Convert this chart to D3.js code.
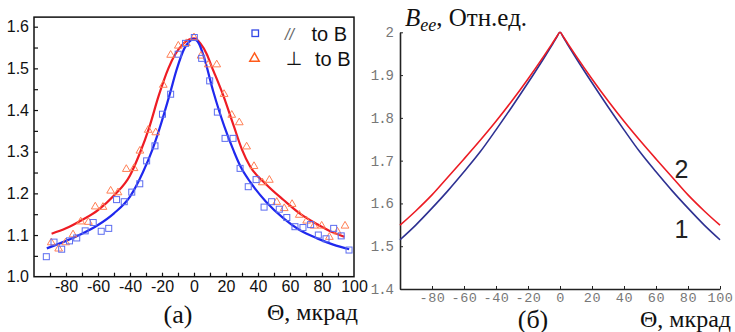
<!DOCTYPE html>
<html><head><meta charset="utf-8">
<script src="https://cdn.jsdelivr.net/npm/d3@7"></script>
<style>body{margin:0;background:#fff;} svg{display:block}</style>
</head><body>
<svg id="c" width="735" height="332"></svg>
<script>
// ---------- Panel (a): measured points ----------
const parTheta = [-92.3,-87.5,-82.7,-77.8,-73.3,-68.0,-63.0,-58.0,-53.3,-48.4,-43.6,-38.9,-33.9,-29.6,-24.4,-19.7,-14.6,-9.9,-5.3,0.2,4.8,9.8,14.6,19.4,24.4,28.8,33.9,38.8,43.8,48.5,53.3,58.0,63.1,68.1,72.9,77.7,82.5,87.3,92.0,96.9];
const parVal   = [1.048,1.083,1.066,1.086,1.093,1.110,1.130,1.109,1.116,1.185,1.180,1.203,1.223,1.278,1.314,1.390,1.438,1.534,1.560,1.574,1.524,1.470,1.395,1.332,1.332,1.260,1.216,1.233,1.167,1.180,1.162,1.142,1.120,1.118,1.125,1.100,1.091,1.116,1.098,1.064];
const perpTheta = [-89.2,-84.6,-80.2,-75.6,-70.8,-66.0,-61.7,-56.9,-52.1,-47.5,-42.3,-37.5,-33.8,-28.6,-23.9,-19.2,-14.6,-9.8,-4.8,0.0,4.4,8.9,14.2,18.8,23.6,28.3,32.9,37.5,42.7,47.1,51.7,56.4,61.3,65.8,70.4,75.0,79.8,84.6,89.6,94.4];
const perpVal   = [1.082,1.067,1.082,1.101,1.132,1.131,1.168,1.167,1.206,1.202,1.258,1.260,1.302,1.352,1.346,1.460,1.532,1.554,1.560,1.574,1.530,1.509,1.509,1.438,1.388,1.370,1.312,1.265,1.226,1.232,1.179,1.164,1.174,1.148,1.134,1.122,1.122,1.095,1.108,1.122];
// fitted curves
const parFitTheta = [-92,-80,-70,-60,-50,-40,-32,-26,-22,-15,-11,-6,-3,0,3,6,12,19,25,29,35,45,56,66,77,87,97];
const parFitVal   = [1.068,1.086,1.103,1.124,1.152,1.192,1.250,1.305,1.350,1.440,1.495,1.548,1.564,1.570,1.560,1.530,1.445,1.360,1.300,1.265,1.228,1.180,1.140,1.112,1.092,1.077,1.066];
const perpFitTheta = [-89,-80,-70,-60,-50,-40,-34,-28,-22,-16,-12,-7,-3,0,4,8,11,18,25,30,35,45,56,66,77,87,94];
const perpFitVal   = [1.103,1.116,1.136,1.160,1.195,1.243,1.295,1.358,1.435,1.500,1.532,1.558,1.569,1.572,1.560,1.534,1.505,1.438,1.360,1.305,1.265,1.222,1.184,1.152,1.126,1.106,1.096];
const aXTicks = [-80,-60,-40,-20,0,20,40,60,80,100];
const aXMinor = [-90,-80,-70,-60,-50,-40,-30,-20,-10,0,10,20,30,40,50,60,70,80,90];
const aYTicks = [1.0,1.1,1.2,1.3,1.4,1.5,1.6];
const aYMinor = [1.05,1.1,1.15,1.2,1.25,1.3,1.35,1.4,1.45,1.5,1.55,1.6];

// ---------- Panel (б): computed curves ----------
const bTheta  = [-100,-90,-80,-70,-60,-50,-40,-30,-20,-10,-5,-2,0,2,5,10,20,30,40,50,60,70,80,90,100];
const curve1  = [1.515,1.550,1.589,1.630,1.674,1.720,1.772,1.826,1.882,1.940,1.970,1.989,2.000,1.989,1.970,1.940,1.882,1.826,1.772,1.720,1.674,1.630,1.589,1.550,1.515];
const curve2  = [1.549,1.583,1.620,1.662,1.704,1.747,1.792,1.840,1.891,1.945,1.973,1.990,2.000,1.990,1.973,1.945,1.891,1.840,1.792,1.747,1.704,1.662,1.620,1.583,1.549];
const bXTicks = [-80,-60,-40,-20,0,20,40,60,80,100];
const bYTicks = [1.4,1.5,1.6,1.7,1.8,1.9,2.0];

const svg = d3.select("#c");

// ===== Panel (a) =====
const ax = d3.scaleLinear().domain([-100,100]).range([34,354]);
const ay = d3.scaleLinear().domain([1.0,1.6]).range([276.7,26.7]);
const aTop = ay(1.623);
const gA = svg.append("g");

gA.append("rect").attr("x",ax(-100)).attr("y",aTop).attr("width",ax(100)-ax(-100)).attr("height",ay(1.0)-aTop)
  .attr("fill","none").attr("stroke","#111").attr("stroke-width",1.5);

const lab = d => String(d);
gA.append("g").attr("transform",`translate(${ax(-100)},0)`)
  .call(d3.axisLeft(ay).tickValues(aYMinor).tickSize(-4).tickFormat(""))
  .call(g=>g.select(".domain").remove())
  .call(g=>g.selectAll("line").attr("stroke","#111").attr("stroke-width",1.2));
gA.append("g").attr("transform",`translate(${ax(-100)},0)`)
  .call(d3.axisLeft(ay).tickValues(aYTicks).tickSize(0).tickPadding(5).tickFormat(d=>d.toFixed(1)))
  .call(g=>g.select(".domain").remove())
  .call(g=>g.selectAll("text").attr("font-family","Liberation Sans, Arial, sans-serif").attr("font-size",16).attr("fill","#111"));
gA.append("g").attr("transform",`translate(0,${ay(1.0)})`)
  .call(d3.axisBottom(ax).tickValues(aXMinor).tickSize(-4).tickFormat(""))
  .call(g=>g.select(".domain").remove())
  .call(g=>g.selectAll("line").attr("stroke","#111").attr("stroke-width",1.2));
gA.append("g").attr("transform",`translate(0,${ay(1.0)})`)
  .call(d3.axisBottom(ax).tickValues(aXTicks).tickSize(0).tickPadding(4).tickFormat(lab))
  .call(g=>g.select(".domain").remove())
  .call(g=>g.selectAll("text").attr("font-family","Liberation Sans, Arial, sans-serif").attr("font-size",16).attr("fill","#111"));

const lineA = d3.line().x(d=>ax(d[0])).y(d=>ay(d[1])).curve(d3.curveMonotoneX);
gA.append("path").datum(d3.zip(perpFitTheta,perpFitVal)).attr("d",lineA)
  .attr("fill","none").attr("stroke","#ee1c24").attr("stroke-width",2.2);
gA.append("path").datum(d3.zip(parFitTheta,parFitVal)).attr("d",lineA)
  .attr("fill","none").attr("stroke","#1f28ee").attr("stroke-width",2.2);

const tri = d3.symbol().type(d3.symbolTriangle).size(26);
gA.append("g").selectAll("path").data(d3.zip(perpTheta,perpVal)).join("path")
  .attr("d",tri).attr("transform",d=>`translate(${ax(d[0])},${ay(d[1])})`)
  .attr("fill","none").attr("stroke","#ff7f55").attr("stroke-width",1);
gA.append("g").selectAll("rect").data(d3.zip(parTheta,parVal)).join("rect")
  .attr("x",d=>ax(d[0])-3).attr("y",d=>ay(d[1])-3).attr("width",6).attr("height",6)
  .attr("fill","none").attr("stroke","#5b6cf0").attr("stroke-width",1);

// legend
gA.append("rect").attr("x",252).attr("y",30).attr("width",6.5).attr("height",6.5)
  .attr("fill","none").attr("stroke","#3347e6").attr("stroke-width",1.3);
gA.append("path").attr("d",d3.symbol().type(d3.symbolTriangle).size(40)).attr("transform","translate(254.5,58.5)")
  .attr("fill","none").attr("stroke","#ff5a1a").attr("stroke-width",1.4);
gA.append("text").attr("x",285).attr("y",40).text("//")
  .attr("font-family","Liberation Sans, Arial, sans-serif").attr("font-style","italic").attr("font-size",16).attr("fill","#666");
gA.append("text").attr("x",311.5).attr("y",40.5).text("to B")
  .attr("font-family","Liberation Sans, Arial, sans-serif").attr("font-size",20).attr("fill","#111");
gA.append("text").attr("x",294).attr("y",65).attr("text-anchor","middle").text("⊥")
  .attr("font-family","DejaVu Sans, sans-serif").attr("font-size",19).attr("fill","#111");
gA.append("text").attr("x",315).attr("y",65.5).text("to B")
  .attr("font-family","Liberation Sans, Arial, sans-serif").attr("font-size",20).attr("fill","#111");

gA.append("text").attr("x",178).attr("y",323).attr("text-anchor","middle").text("(a)")
  .attr("font-family","Liberation Serif, Times New Roman, serif").attr("font-size",26).attr("fill","#111");
gA.append("text").attr("x",358).attr("y",320).attr("text-anchor","end").text("Θ, мкрад")
  .attr("font-family","Liberation Serif, Times New Roman, serif").attr("font-size",24).attr("fill","#111");

// ===== Panel (б) =====
const bx = d3.scaleLinear().domain([-100,100]).range([400,720]);
const by = d3.scaleLinear().domain([1.4,2.0]).range([289,32.3]);
const gB = svg.append("g");
const mono = "Liberation Mono, Courier New, monospace";

gB.append("g").attr("transform",`translate(${bx(-100)},0)`)
  .call(d3.axisLeft(by).tickValues(bYTicks).tickSizeInner(-3).tickSizeOuter(0).tickPadding(7).tickFormat(d=>d===2?"2":d.toFixed(1)))
  .call(g=>g.select(".domain").attr("stroke","#222").attr("stroke-width",1.6))
  .call(g=>g.selectAll("line").attr("stroke","#222"))
  .call(g=>g.selectAll("text").attr("font-family",mono).attr("font-size",14).attr("letter-spacing","-1px").attr("fill","#777"));
gB.append("g").attr("transform",`translate(0,${by(1.4)})`)
  .call(d3.axisBottom(bx).tickValues(bXTicks).tickSizeInner(-3).tickSizeOuter(0).tickPadding(3).tickFormat(lab))
  .call(g=>g.select(".domain").attr("stroke","#222").attr("stroke-width",1.6))
  .call(g=>g.selectAll("line").attr("stroke","#222"))
  .call(g=>g.selectAll("text").attr("font-family",mono).attr("font-size",13.5).attr("letter-spacing","0.6px").attr("fill","#777"));

const lineB = d3.line().x(d=>bx(d[0])).y(d=>by(d[1])).curve(d3.curveMonotoneX);
gB.append("path").datum(d3.zip(bTheta,curve1)).attr("d",lineB)
  .attr("fill","none").attr("stroke","#2e3192").attr("stroke-width",1.6);
gB.append("path").datum(d3.zip(bTheta,curve2)).attr("d",lineB)
  .attr("fill","none").attr("stroke","#ec1c24").attr("stroke-width",1.6);

gB.append("text").attr("x",674.5).attr("y",178.3).text("2")
  .attr("font-family","Liberation Sans, Arial, sans-serif").attr("font-size",25).attr("fill","#222");
gB.append("text").attr("x",674.5).attr("y",238.3).text("1")
  .attr("font-family","Liberation Sans, Arial, sans-serif").attr("font-size",25).attr("fill","#222");

const tt = gB.append("text").attr("x",405).attr("y",25.5)
  .attr("font-family","Liberation Serif, Times New Roman, serif").attr("font-size",25).attr("fill","#111");
tt.append("tspan").attr("font-style","italic").text("B");
tt.append("tspan").attr("font-style","italic").attr("font-size",18).attr("dy",5).text("ee");
tt.append("tspan").attr("dy",-5).text(", Отн.ед.");

gB.append("text").attr("x",533).attr("y",327.5).attr("text-anchor","middle").text("(б)")
  .attr("font-family","Liberation Serif, Times New Roman, serif").attr("font-size",26).attr("fill","#111");
gB.append("text").attr("x",731).attr("y",327).attr("text-anchor","end").text("Θ, мкрад")
  .attr("font-family","Liberation Serif, Times New Roman, serif").attr("font-size",24).attr("fill","#111");
</script>
</body></html>
